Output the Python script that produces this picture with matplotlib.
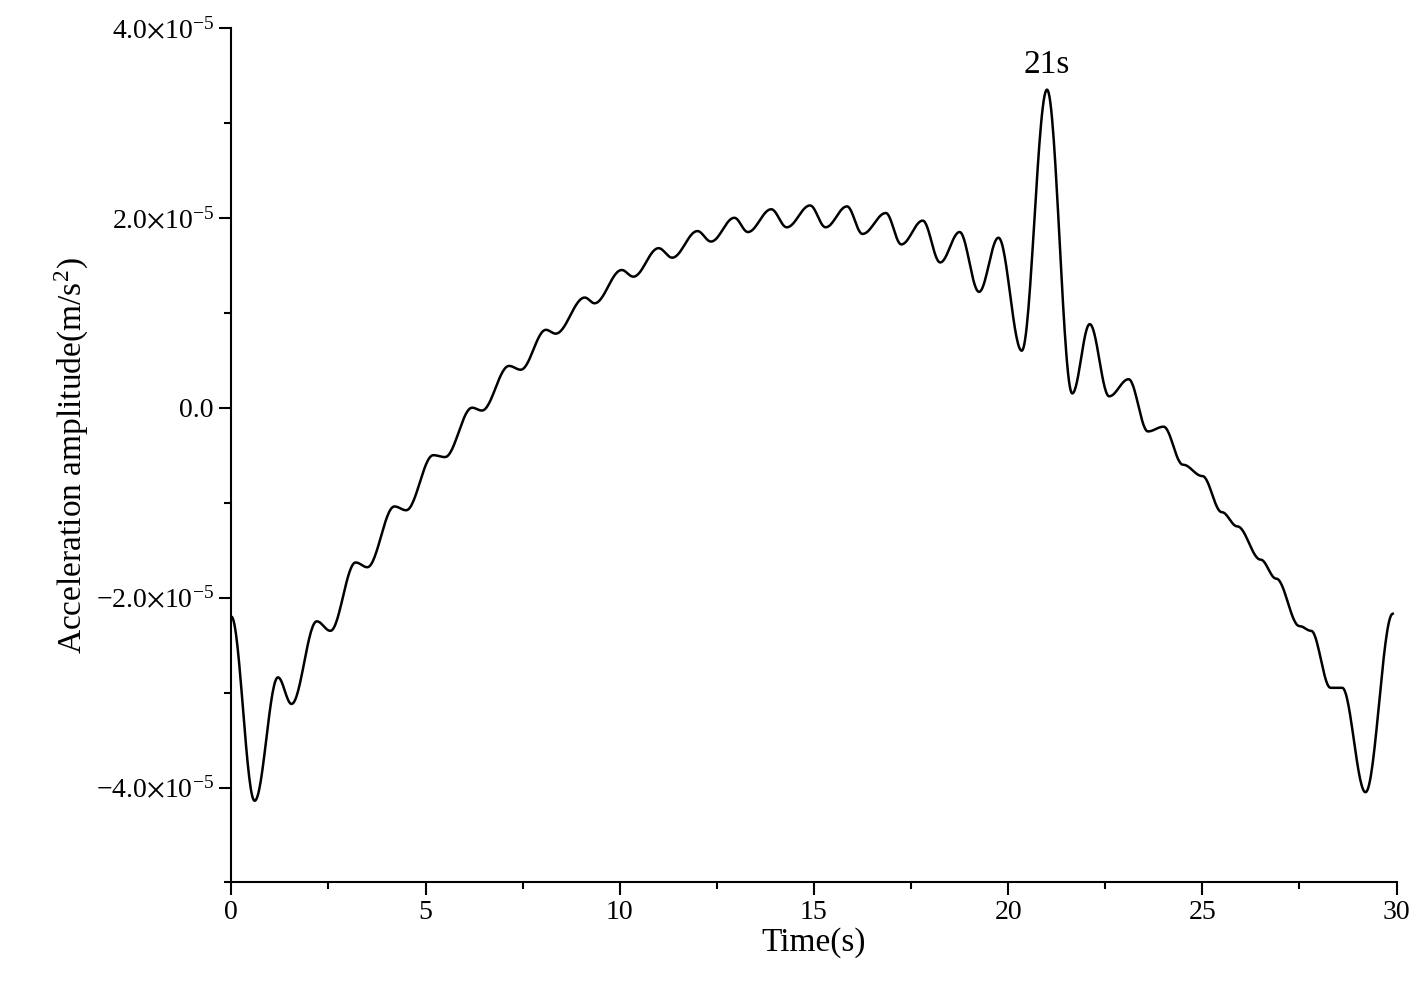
import numpy as np
import matplotlib.pyplot as plt
from matplotlib.ticker import MultipleLocator, FuncFormatter

plt.rcParams['font.family'] = ['Liberation Serif', 'DejaVu Serif']
plt.rcParams['mathtext.fontset'] = 'stix'

# key points (time s, amplitude in 1e-5 m/s^2)
t_pts = [0, 0.6, 1.2, 1.55, 2.2, 2.55, 3.2, 3.5, 4.2, 4.5, 5.2, 5.5, 6.2, 6.45,
         7.15, 7.45, 8.1, 8.35, 9.1, 9.35, 10.05, 10.35, 11.0, 11.35, 12.0, 12.35,
         12.95, 13.3, 13.9, 14.3, 14.9, 15.3, 15.85, 16.25, 16.85, 17.25, 17.8, 18.25,
         18.75, 19.25, 19.75, 20.35, 21.0, 21.65, 22.1, 22.6, 23.1, 23.6, 24.0, 24.5,
         25.0, 25.5, 25.9, 26.5, 26.9, 27.5, 27.8, 28.3, 28.6, 29.2, 29.9]
a_pts = [-2.2, -4.14, -2.84, -3.12, -2.25, -2.35, -1.63, -1.68, -1.04, -1.08, -0.5, -0.52,
         0.0, -0.03, 0.44, 0.40, 0.82, 0.78, 1.16, 1.10, 1.45, 1.38, 1.68, 1.58, 1.86, 1.75,
         2.0, 1.85, 2.09, 1.9, 2.13, 1.9, 2.12, 1.83, 2.05, 1.72, 1.97, 1.53, 1.85, 1.22,
         1.79, 0.6, 3.35, 0.15, 0.88, 0.12, 0.3, -0.25, -0.2, -0.6, -0.72, -1.1, -1.25,
         -1.6, -1.8, -2.3, -2.35, -2.95, -2.95, -4.05, -2.17]

t_pts = np.array(t_pts)
a_pts = np.array(a_pts) * 1e-5

# smooth rendering between key points (cosine easing, zero slope at each key point)
xs, ys = [], []
for i in range(len(t_pts) - 1):
    s = np.linspace(0, 1, 30, endpoint=False)
    w = (1 - np.cos(np.pi * s)) / 2
    xs.append(t_pts[i] + (t_pts[i + 1] - t_pts[i]) * s)
    ys.append(a_pts[i] + (a_pts[i + 1] - a_pts[i]) * w)
xs = np.concatenate(xs + [t_pts[-1:]])
ys = np.concatenate(ys + [a_pts[-1:]])

fig, ax = plt.subplots(figsize=(14.28, 9.96), dpi=100)
fig.subplots_adjust(left=0.162, right=0.978, bottom=0.114, top=0.972)
ax.plot(xs, ys, color='black', lw=1.8)
ax.text(21.0, 3.45e-5, '21s', ha='center', va='bottom', fontsize=24)

ax.set_xlim(0, 30)
ax.set_ylim(-5e-5, 4e-5)
ax.xaxis.set_major_locator(MultipleLocator(5))
ax.xaxis.set_minor_locator(MultipleLocator(2.5))
ax.yaxis.set_major_locator(MultipleLocator(2e-5))
ax.yaxis.set_minor_locator(MultipleLocator(1e-5))


def yfmt(v, pos):
    if abs(v) < 1e-12:
        return '0.0'
    m = v / 1e-5
    sign = '\u2212' if m < 0 else ''
    return sign + '%.1f' % abs(m) + r'$\times$10$^{\mathregular{-5}}$'


ax.yaxis.set_major_formatter(FuncFormatter(yfmt))
ax.tick_params(which='both', direction='out', width=1.5, labelsize=20)
ax.tick_params(which='major', length=9)
ax.tick_params(which='minor', length=5)
for sp in ['top', 'right']:
    ax.spines[sp].set_visible(False)
for sp in ['left', 'bottom']:
    ax.spines[sp].set_linewidth(1.5)

ax.set_xlabel('Time(s)', fontsize=24, labelpad=2)
ax.set_ylabel('Acceleration amplitude(m/s$^{\\mathregular{2}}$)', fontsize=24)

fig.savefig('out.png')
